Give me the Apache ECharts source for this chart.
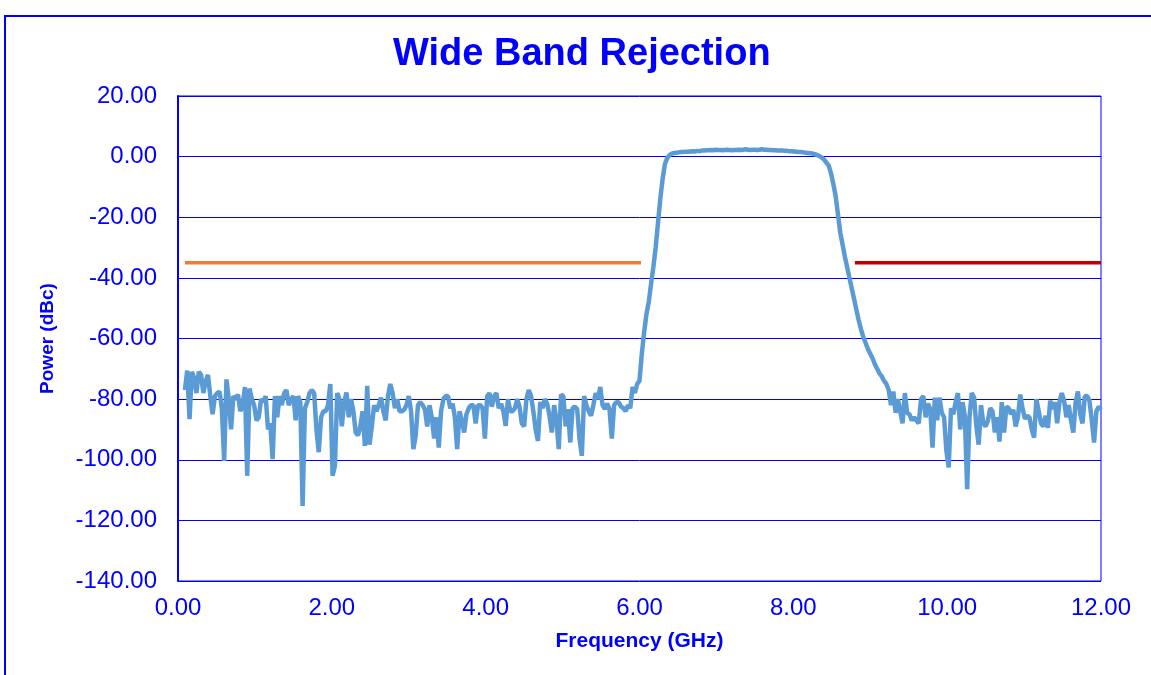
<!DOCTYPE html>
<html>
<head>
<meta charset="utf-8">
<script src="https://cdn.jsdelivr.net/npm/echarts@6/dist/echarts.min.js"></script>
<style>
html,body{margin:0;padding:0;background:#fff;}
#chart{width:1151px;height:675px;}
</style>
</head>
<body>
<div id="chart"></div>
<script>
// ---- data ----
const chartTitle = 'Wide Band Rejection';
const xAxisTitle = 'Frequency (GHz)';
const yAxisTitle = 'Power (dBc)';

// sweep grid of the measured trace (GHz)
const sweepStartGHz = 0.09;
const sweepStepGHz = 0.03;

// measured power (dBc), lower stop band 0.09 .. 5.79 GHz
const lowStopBand = [
  -77, -70.6, -86.6, -71, -73, -78, -71, -72, -78, -74,
  -72, -79, -85, -79, -78, -77.5, -83, -100.4, -73.5, -80,
  -90, -79, -80, -78.5, -84, -82, -76, -105.3, -76.5, -80,
  -82, -87, -86, -80, -81, -79, -90, -88, -99.8, -79,
  -86, -79, -82, -78, -77, -82, -80, -79, -87, -79,
  -81, -115.2, -83, -81, -78, -77, -78, -90, -97.5, -86,
  -84,
  -84, -82, -75, -105.3, -102, -78, -80, -89, -81,
  -77.8, -86, -80, -84, -91, -92, -89, -84, -95.4, -75.6,
  -95, -89, -82, -84, -82, -79.5, -84, -87, -79, -75,
  -78, -83, -80, -84, -84, -83.5, -82, -79, -84, -96.5,
  -92, -82, -81, -82, -83.3, -89, -82, -86, -93, -86,
  -96, -84, -80, -79, -79, -83, -81.5, -86, -96.5, -84,
  -87, -91, -85, -83, -82,
  -82, -88, -82, -82, -83, -93, -79, -78, -82.5, -79,
  -78, -83, -81.5, -84, -88.8, -80, -84, -84, -83, -80,
  -82.5, -88, -89, -80, -77, -79, -84, -90, -93.8, -81,
  -83, -80, -81.5, -85.5, -91, -82, -87, -96.5, -78.5, -79,
  -89, -83.3, -94.3, -83, -82.5, -83.3, -93, -98.7, -79, -82,
  -84, -85.5, -82, -78, -80, -76, -82, -83.3, -81.5, -83.3,
  -93, -82, -81, -81, -82.5, -83
];
// rising skirt
const risingEdge = [
  -84, -82, -83, -76, -78, -75, -74, -65, -58, -52,
  -48, -42, -36.5, -30, -22, -14, -7.5, -2.5, -0.5, 0.5, 1.0
];
// pass band
const passBand = [
  1.2, 1.3, 1.4, 1.5, 1.5, 1.6, 1.6, 1.7, 1.8, 1.7,
  1.9, 1.8, 2.0, 2.0, 2.1, 2.1, 2.2, 2.1, 2.3, 2.2,
  2.2, 2.1, 2.2, 2.3, 2.2, 2.1, 2.2, 2.2, 2.3, 2.2,
  2.3, 2.4, 2.3, 2.2, 2.3, 2.3, 2.2, 2.3, 2.4, 2.3,
  2.3, 2.2, 2.2, 2.1, 2.1, 2.0, 2.0, 2.0, 1.9, 1.9,
  1.8, 1.8, 1.7, 1.6, 1.5, 1.5, 1.4, 1.3, 1.2, 1.1,
  1.0, 0.8, 0.5, 0.2
];
// falling skirt
const fallingEdge = [
  -0.3, -1.0, -2.0, -3.0, -5.5, -9, -13, -19, -25, -29,
  -33, -36.5, -40, -43.5, -47, -50.5, -54, -57, -59.5, -61.5,
  -63.5, -65, -66.5, -68.5, -70
];
// upper stop band
const highStopBand = [
  -71.5, -72.5, -74, -75, -77, -82, -77.5, -84.5, -80, -84,
  -88, -78, -84.5, -85, -87, -86, -87, -88, -80, -79,
  -86, -81.5, -83.3, -96, -79.5, -87, -79.5, -84.5, -86, -97,
  -102.5, -83, -85, -81, -78, -90, -81, -85.5, -109.7, -86,
  -78, -79.5, -89, -95, -82, -88, -89, -87, -83, -84,
  -91, -86, -94, -81, -91, -82.5, -83, -85, -83.5, -89,
  -86, -78.5, -83, -86.5, -85.5, -86, -90, -92.7, -80, -84,
  -88, -89, -85.5, -89.5, -80.5, -83.3, -81, -88, -81, -78,
  -80.5, -86, -82, -87, -91, -81, -77.5, -85, -88, -79,
  -79, -80.5, -87, -94.3, -84, -82.5, -83.5
];

// rejection limit masks
const lowerLimitFreq = [0.09, 6.02];
const lowerLimitLevel = [-35, -35];
const upperLimitFreq = [8.8, 12.0];
const upperLimitLevel = [-35, -35];

// axis ticks
const xTicks = { min: 0, max: 12, step: 2 };
const yTicks = { min: -140, max: 20, step: 20 };

// ---- build ----
const powers = [].concat(lowStopBand, risingEdge, passBand, fallingEdge, highStopBand);
const traceData = powers.map((p, i) => [+(sweepStartGHz + i * sweepStepGHz).toFixed(2), p]);
const lowerLimit = lowerLimitFreq.map((f, i) => [f, lowerLimitLevel[i]]);
const upperLimit = upperLimitFreq.map((f, i) => [f, upperLimitLevel[i]]);

const BLUE = '#0000ff';
const FONT = '"Liberation Sans", Arial, sans-serif';

const chart = echarts.init(document.getElementById('chart'), null, { renderer: 'canvas' });
chart.setOption({
  animation: false,
  backgroundColor: '#ffffff',
  title: {
    text: chartTitle,
    left: 388,
    top: 31,
    textStyle: { color: BLUE, fontFamily: FONT, fontWeight: 'bold', fontSize: 38 }
  },
  graphic: [{
    type: 'rect',
    shape: { x: 5, y: 16, width: 1170, height: 700 },
    style: { fill: 'none', stroke: BLUE, lineWidth: 2 },
    silent: true
  }],
  grid: {
    left: 178, right: 50, top: 96, bottom: 94,
    show: true, borderColor: BLUE, borderWidth: 1, backgroundColor: 'transparent'
  },
  xAxis: {
    type: 'value',
    min: xTicks.min, max: xTicks.max, interval: xTicks.step,
    name: xAxisTitle,
    nameLocation: 'middle',
    nameGap: 50,
    nameTextStyle: { color: BLUE, fontFamily: FONT, fontWeight: 'bold', fontSize: 21 },
    axisLine: { show: true, lineStyle: { color: BLUE, width: 1 } },
    axisTick: { show: false },
    splitLine: { show: false },
    axisLabel: {
      color: BLUE, fontFamily: FONT, fontSize: 24, margin: 15,
      formatter: v => v.toFixed(2)
    }
  },
  yAxis: {
    type: 'value',
    min: yTicks.min, max: yTicks.max, interval: yTicks.step,
    name: yAxisTitle,
    nameLocation: 'middle',
    nameGap: 121,
    nameRotate: 90,
    nameTextStyle: { color: BLUE, fontFamily: FONT, fontWeight: 'bold', fontSize: 19 },
    axisLine: { show: true, lineStyle: { color: BLUE, width: 2 } },
    axisTick: { show: false },
    splitLine: { show: true, lineStyle: { color: BLUE, width: 1 } },
    axisLabel: {
      color: BLUE, fontFamily: FONT, fontSize: 24, margin: 21,
      formatter: v => v.toFixed(2)
    }
  },
  series: [
    {
      name: 'Measured',
      type: 'line',
      data: traceData,
      showSymbol: false,
      symbol: 'none',
      lineStyle: { color: '#5b9bd5', width: 4.5 },
      z: 2
    },
    {
      name: 'Lower limit',
      type: 'line',
      data: lowerLimit,
      showSymbol: false,
      symbol: 'none',
      lineStyle: { color: '#ed7d31', width: 3.5 },
      z: 3
    },
    {
      name: 'Upper limit',
      type: 'line',
      data: upperLimit,
      showSymbol: false,
      symbol: 'none',
      lineStyle: { color: '#c00000', width: 3.5 },
      z: 3
    }
  ]
});
</script>
</body>
</html>
